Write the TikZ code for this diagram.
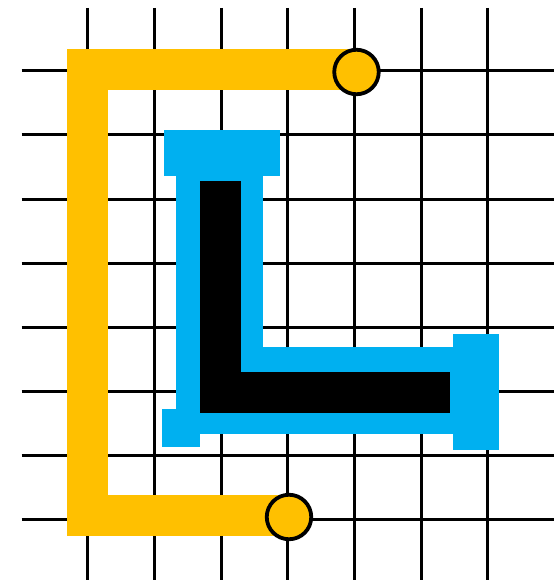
\documentclass[tikz,border=0pt]{standalone}
\definecolor{ygold}{HTML}{FFC000}
\definecolor{sky}{HTML}{00B0F0}
\begin{document}
\begin{tikzpicture}[x=1pt,y=-1pt,
  gridline/.style={black,line width=3pt},
  yband/.style={ygold,line width=41pt,line join=miter,line cap=butt},
  bband/.style={sky,line width=87pt,line join=miter,line cap=butt},
  kband/.style={black,line width=41pt,line join=miter,line cap=butt},
  bcap/.style={fill=sky,draw=none},
  endpt/.style={circle,minimum size=44.5pt,inner sep=0pt,fill=ygold,draw=black,line width=3.8pt}]
\useasboundingbox (0,0) rectangle (559,580);
% grid
\foreach \i in {0,...,6} {
  \draw[gridline] ({87.67+66.667*\i},8) -- ({87.67+66.667*\i},580);
}
\foreach \j in {0,...,7} {
  \draw[gridline] (21.7,{71+64*\j}) -- (553.5,{71+64*\j});
}
% yellow path
\coordinate (ya) at (356.5,70);
\coordinate (yb) at (87,70);
\coordinate (yc) at (87,515.5);
\coordinate (yd) at (289,515.5);
\draw[yband] (ya) -- (yb) -- (yc) -- (yd);
% blue outline L
\coordinate (ba) at (219.5,175.7);
\coordinate (bb) at (219.5,390.5);
\coordinate (bc) at (453,390.5);
\draw[bband] (ba) -- (bb) -- (bc);
\fill[bcap] (164,130) rectangle (280,175.9);
\fill[bcap] (453,334) rectangle (499,449.7);
\fill[bcap] (162,409) rectangle (200,447);
% black L
\coordinate (ka) at (220.5,181);
\coordinate (kb) at (220.5,392);
\coordinate (kc) at (450,392);
\draw[kband] (ka) -- (kb) -- (kc);
% end circles
\node[endpt] (c1) at (356.5,72) {};
\node[endpt] (c2) at (289,517) {};
\end{tikzpicture}
\end{document}
